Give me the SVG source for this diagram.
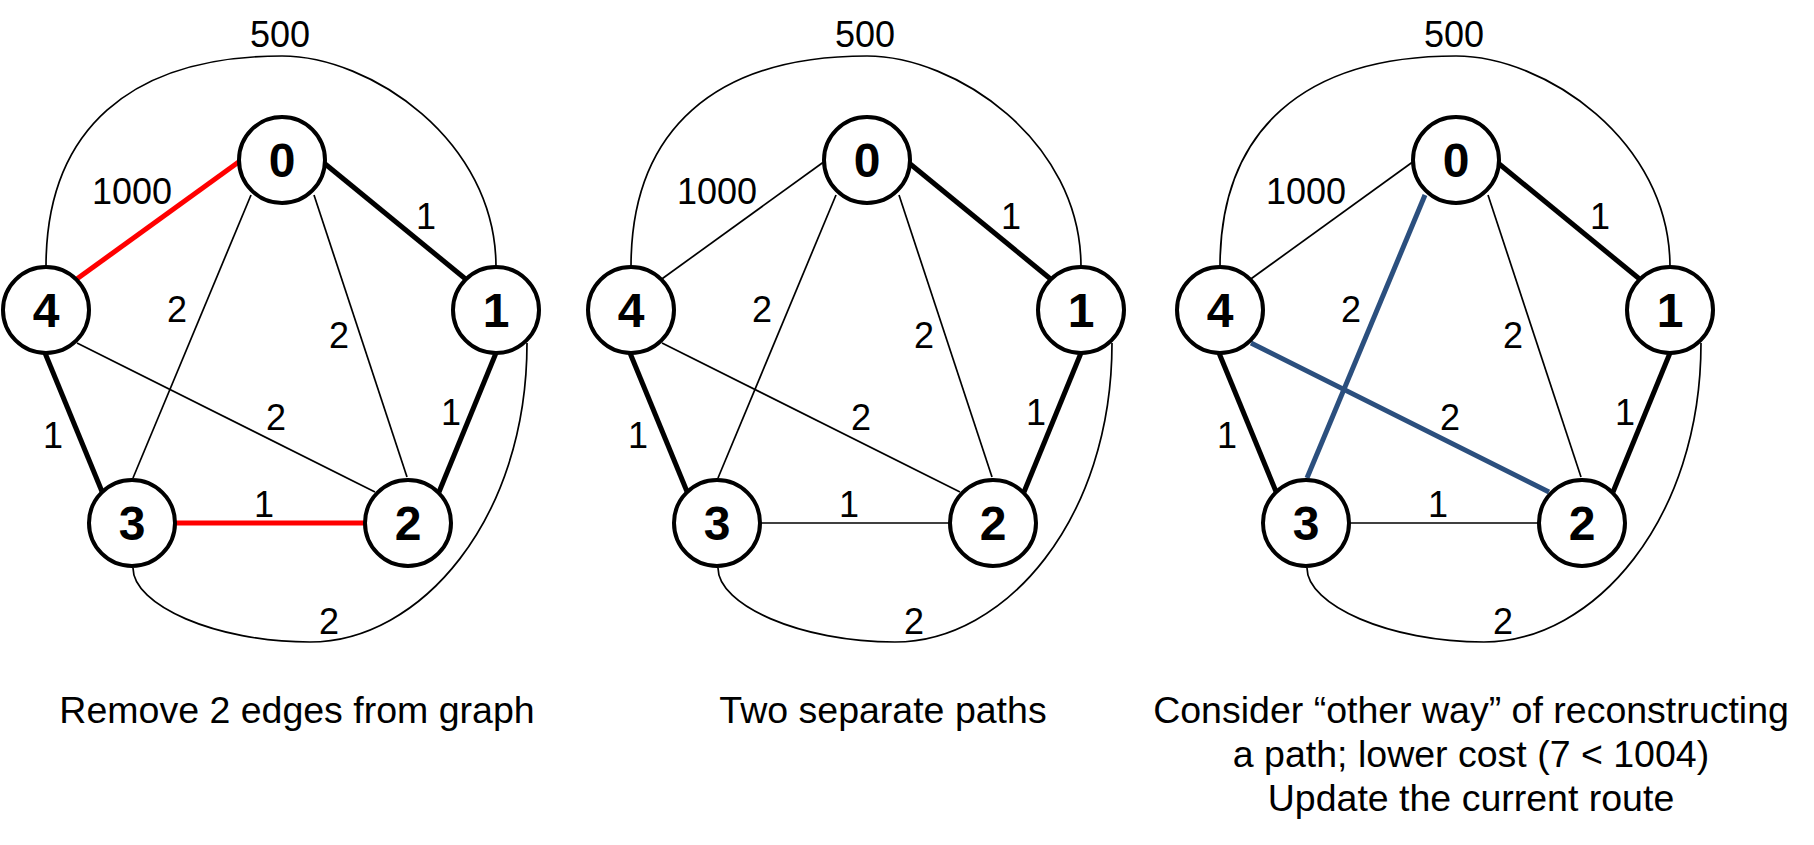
<svg xmlns="http://www.w3.org/2000/svg" width="1814" height="845" viewBox="0 0 1814 845">
<defs>
<style>
.bg{fill:#ffffff}
.node circle{fill:#ffffff;stroke:#000000;stroke-width:4}
.node text{font-family:"Liberation Sans",Arial,sans-serif;font-weight:bold;font-size:48px;text-anchor:middle;fill:#000000}
.thin{fill:none;stroke:#000000;stroke-width:1.7}
.thick{fill:none;stroke:#000000;stroke-width:5}
.red{fill:none;stroke:#ff0000;stroke-width:5}
.blue{fill:none;stroke:#2b4f7e;stroke-width:5}
.lbl{font-family:"Liberation Sans",Arial,sans-serif;font-size:36px;text-anchor:middle;fill:#000000}
.cap{font-family:"Liberation Sans",Arial,sans-serif;font-size:37.5px;text-anchor:middle;fill:#000000}
</style>
</defs>
<rect class="bg" x="0" y="0" width="1814" height="845"/>

<!-- Panel 1 -->
<g id="panel1">
  <g id="p1-connectors">
    <path class="thin" d="M46,267 C46,130 130,56 282,56 C370,56 496,140 496,267"/>
    <path class="thin" d="M133,568 C133,605 215,642 310,642 C420,642 527,520 527,343"/>
    <line class="red" x1="240" y1="161" x2="74" y2="281"/>
    <line class="thick" x1="324" y1="163" x2="468" y2="281"/>
    <line class="thin" x1="251" y1="195" x2="133" y2="478"/>
    <line class="thin" x1="314" y1="195" x2="407" y2="477"/>
    <line class="thin" x1="77" y1="343" x2="375" y2="492"/>
    <line class="thick" x1="45" y1="353" x2="103" y2="494"/>
    <line class="red" x1="175" y1="523" x2="366" y2="523"/>
    <line class="thick" x1="496" y1="353" x2="439" y2="492"/>
    <text class="lbl" x="280" y="47">500</text>
    <text class="lbl" x="132" y="204">1000</text>
    <text class="lbl" x="426" y="229">1</text>
    <text class="lbl" x="177" y="322">2</text>
    <text class="lbl" x="339" y="348">2</text>
    <text class="lbl" x="276" y="430">2</text>
    <text class="lbl" x="53" y="448">1</text>
    <text class="lbl" x="264" y="517">1</text>
    <text class="lbl" x="451" y="425">1</text>
    <text class="lbl" x="329" y="634">2</text>
  </g>
  <g id="p1-n0" class="node"><circle cx="282" cy="160" r="43"/><text x="282" y="177">0</text></g>
  <g id="p1-n1" class="node"><circle cx="496" cy="310" r="43"/><text x="496" y="327">1</text></g>
  <g id="p1-n2" class="node"><circle cx="408" cy="523" r="43"/><text x="408" y="540">2</text></g>
  <g id="p1-n3" class="node"><circle cx="132" cy="523" r="43"/><text x="132" y="540">3</text></g>
  <g id="p1-n4" class="node"><circle cx="46" cy="310" r="43"/><text x="46" y="327">4</text></g>
  <text class="cap" x="297" y="723">Remove 2 edges from graph</text>
</g>

<!-- Panel 2 -->
<g id="panel2" transform="translate(585,0)">
  <g id="p2-connectors">
    <path class="thin" d="M46,267 C46,130 130,56 282,56 C370,56 496,140 496,267"/>
    <path class="thin" d="M133,568 C133,605 215,642 310,642 C420,642 527,520 527,343"/>
    <line class="thin" x1="240" y1="161" x2="74" y2="281"/>
    <line class="thick" x1="324" y1="163" x2="468" y2="281"/>
    <line class="thin" x1="251" y1="195" x2="133" y2="478"/>
    <line class="thin" x1="314" y1="195" x2="407" y2="477"/>
    <line class="thin" x1="77" y1="343" x2="375" y2="492"/>
    <line class="thick" x1="45" y1="353" x2="103" y2="494"/>
    <line class="thin" x1="175" y1="523" x2="366" y2="523"/>
    <line class="thick" x1="496" y1="353" x2="439" y2="492"/>
    <text class="lbl" x="280" y="47">500</text>
    <text class="lbl" x="132" y="204">1000</text>
    <text class="lbl" x="426" y="229">1</text>
    <text class="lbl" x="177" y="322">2</text>
    <text class="lbl" x="339" y="348">2</text>
    <text class="lbl" x="276" y="430">2</text>
    <text class="lbl" x="53" y="448">1</text>
    <text class="lbl" x="264" y="517">1</text>
    <text class="lbl" x="451" y="425">1</text>
    <text class="lbl" x="329" y="634">2</text>
  </g>
  <g id="p2-n0" class="node"><circle cx="282" cy="160" r="43"/><text x="282" y="177">0</text></g>
  <g id="p2-n1" class="node"><circle cx="496" cy="310" r="43"/><text x="496" y="327">1</text></g>
  <g id="p2-n2" class="node"><circle cx="408" cy="523" r="43"/><text x="408" y="540">2</text></g>
  <g id="p2-n3" class="node"><circle cx="132" cy="523" r="43"/><text x="132" y="540">3</text></g>
  <g id="p2-n4" class="node"><circle cx="46" cy="310" r="43"/><text x="46" y="327">4</text></g>
  <text class="cap" x="298" y="723">Two separate paths</text>
</g>

<!-- Panel 3 -->
<g id="panel3" transform="translate(1174,0)">
  <g id="p3-connectors">
    <path class="thin" d="M46,267 C46,130 130,56 282,56 C370,56 496,140 496,267"/>
    <path class="thin" d="M133,568 C133,605 215,642 310,642 C420,642 527,520 527,343"/>
    <line class="thin" x1="240" y1="161" x2="74" y2="281"/>
    <line class="thick" x1="324" y1="163" x2="468" y2="281"/>
    <line class="blue" x1="251" y1="195" x2="133" y2="478"/>
    <line class="thin" x1="314" y1="195" x2="407" y2="477"/>
    <line class="blue" x1="77" y1="343" x2="375" y2="492"/>
    <line class="thick" x1="45" y1="353" x2="103" y2="494"/>
    <line class="thin" x1="175" y1="523" x2="366" y2="523"/>
    <line class="thick" x1="496" y1="353" x2="439" y2="492"/>
    <text class="lbl" x="280" y="47">500</text>
    <text class="lbl" x="132" y="204">1000</text>
    <text class="lbl" x="426" y="229">1</text>
    <text class="lbl" x="177" y="322">2</text>
    <text class="lbl" x="339" y="348">2</text>
    <text class="lbl" x="276" y="430">2</text>
    <text class="lbl" x="53" y="448">1</text>
    <text class="lbl" x="264" y="517">1</text>
    <text class="lbl" x="451" y="425">1</text>
    <text class="lbl" x="329" y="634">2</text>
  </g>
  <g id="p3-n0" class="node"><circle cx="282" cy="160" r="43"/><text x="282" y="177">0</text></g>
  <g id="p3-n1" class="node"><circle cx="496" cy="310" r="43"/><text x="496" y="327">1</text></g>
  <g id="p3-n2" class="node"><circle cx="408" cy="523" r="43"/><text x="408" y="540">2</text></g>
  <g id="p3-n3" class="node"><circle cx="132" cy="523" r="43"/><text x="132" y="540">3</text></g>
  <g id="p3-n4" class="node"><circle cx="46" cy="310" r="43"/><text x="46" y="327">4</text></g>
  <text class="cap" x="297" y="723">Consider “other way” of reconstructing</text>
  <text class="cap" x="297" y="767">a path; lower cost (7 &lt; 1004)</text>
  <text class="cap" x="297" y="811">Update the current route</text>
</g>
</svg>
